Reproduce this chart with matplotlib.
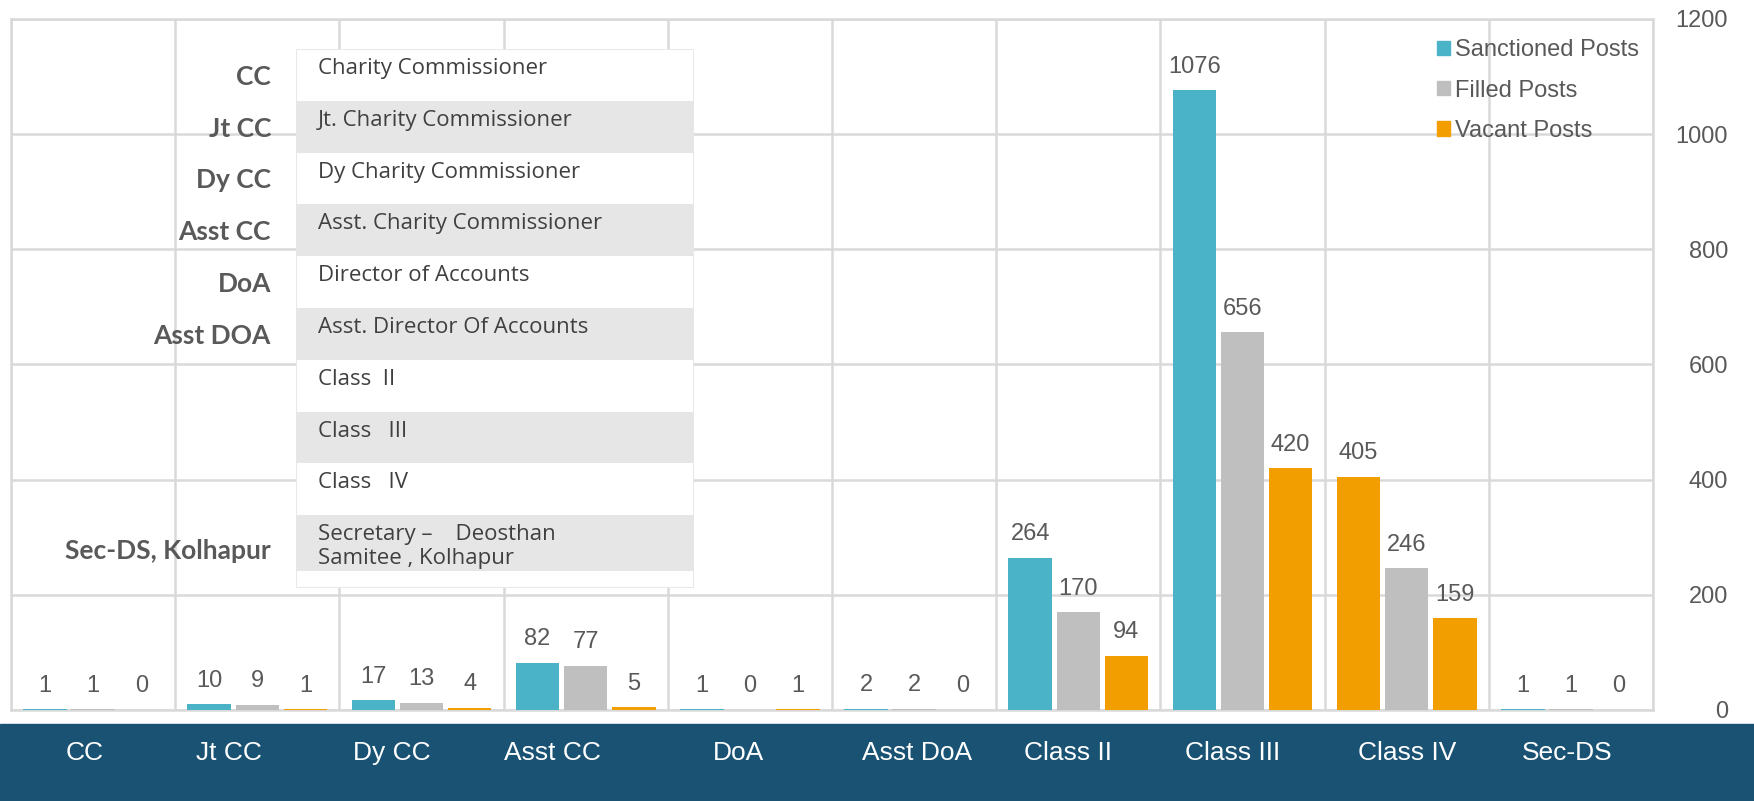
import numpy as np
import matplotlib
matplotlib.use('Agg')
from matplotlib import pyplot as plt
from matplotlib.patches import Rectangle

plt.rcParams['font.family'] = ['Liberation Sans', 'DejaVu Sans']

# данные
categories = ['CC', 'Jt CC', 'Dy CC', 'Asst CC', 'DoA', 'Asst DoA',
              'Class II', 'Class III', 'Class IV', 'Sec-DS']
sanctioned = [1, 10, 17, 82, 1, 2, 264, 1076, 405, 1]
filled = [1, 9, 13, 77, 0, 2, 170, 656, 246, 1]
vacant = [0, 1, 4, 5, 1, 0, 94, 420, 159, 0]
series_names = ['Sanctioned Posts', 'Filled Posts', 'Vacant Posts']

abbr = ['CC', 'Jt CC', 'Dy CC', 'Asst CC', 'DoA', 'Asst DOA', '', '', '', 'Sec-DS, Kolhapur']
full_names = ['Charity Commissioner', 'Jt. Charity Commissioner', 'Dy Charity Commissioner',
              'Asst. Charity Commissioner', 'Director of Accounts', 'Asst. Director Of Accounts',
              'Class  II', 'Class   III', 'Class   IV',
              'Secretary \u2013    Deosthan\nSamitee , Kolhapur']

# стиль
c_teal, c_gray, c_orange = '#4BB3C7', '#BFBFBF', '#F29D00'
txt_gray = '#595959'
grid_c = '#D9D9D9'
band_c = '#195273'
label_shift = [-0.05, -0.17, -0.18, -0.2, -0.07, 0.02, -0.06, -0.06, 0, -0.02]

W, H = 1754, 801
fig = plt.figure(figsize=(W / 100, H / 100), dpi=100)
fig.patch.set_facecolor('white')

# основная область графика
l, r, t, b = 11, 1653, 19, 710
ax = fig.add_axes([l / W, 1 - b / H, (r - l) / W, (b - t) / H])
x = np.arange(len(categories))
bw, step = 0.265, 0.293

cols_s = [c_teal] * len(categories)
cols_s[8] = c_orange  # в оригинале этот столбец оранжевый
for vals, off, col in [(sanctioned, -step, cols_s),
                       (filled, 0, c_gray),
                       (vacant, step, c_orange)]:
    ax.bar(x + off, vals, width=bw, color=col, zorder=3)
    for xi, v in zip(x + off, vals):
        ax.annotate(str(v), (xi, v), xytext=(0, 9), textcoords='offset points',
                    ha='center', va='bottom', fontsize=17, color=txt_gray)

ax.set_xlim(-0.5, len(categories) - 0.5)
ax.set_ylim(0, 1200)
ax.set_yticks(range(0, 1201, 200))
ax.set_xticks([])
ax.set_xticks(np.arange(-0.5, len(categories), 1), minor=True)
ax.grid(axis='y', color=grid_c, lw=1.8, zorder=0)
ax.grid(axis='x', which='minor', color=grid_c, lw=1.8, zorder=0)
ax.tick_params(axis='x', which='both', length=0)
ax.yaxis.tick_right()
ax.tick_params(axis='y', length=0, pad=54, labelsize=17, labelcolor=txt_gray)
for lab in ax.get_yticklabels():
    lab.set_ha('right')
for s in ax.spines.values():
    s.set_color(grid_c)
    s.set_linewidth(1.8)

# легенда
handles = [Rectangle((0, 0), 1, 1, color=c) for c in (c_teal, c_gray, c_orange)]
leg = ax.legend(handles, series_names, loc='upper left', bbox_to_anchor=(0.861, 0.988),
                frameon=False, fontsize=17, handlelength=0.55, handleheight=0.55,
                handletextpad=0.25, labelspacing=0.78, borderpad=0)
for tx in leg.get_texts():
    tx.set_color(txt_gray)

# нижняя полоса с подписями
fig.patches.append(Rectangle((0, 0), 1, 1 - 724 / H, transform=fig.transFigure,
                             color=band_c, zorder=-1))
for i, cat in enumerate(categories):
    ax.text(i + label_shift[i], -(753 - b) / (b - t), cat, transform=ax.get_xaxis_transform(),
            ha='center', va='center', color='white', fontsize=19, clip_on=False, zorder=5)

# вставка-таблица с расшифровкой
tx0, tx1, ty0, ty1 = 296, 694, 49, 588
ax2 = fig.add_axes([tx0 / W, 1 - ty1 / H, (tx1 - tx0) / W, (ty1 - ty0) / H])
ax2.set_xlim(0, tx1 - tx0)
ax2.set_ylim(ty1 - ty0, 0)
ax2.axis('off')
ax2.add_patch(Rectangle((0, 0), tx1 - tx0, ty1 - ty0, facecolor='white',
                        edgecolor='#E8E8E8', lw=1.5))
row_h = 51.8
for i, name in enumerate(full_names):
    y0 = i * row_h
    h = row_h if i < len(full_names) - 1 else 56
    if i % 2 == 1:
        ax2.add_patch(Rectangle((0, y0), tx1 - tx0, h, facecolor='#E6E6E6', edgecolor='none'))
    ax2.text(22, y0 + 9, name, ha='left', va='top', fontsize=16, color='#404040',
             family=['Open Sans', 'DejaVu Sans'], linespacing=1.15)
    if abbr[i]:
        ax2.text(-25, y0 + h / 2 + (8 if i == 9 else 2), abbr[i], ha='right', va='center',
                 fontsize=19, fontweight='bold', color=txt_gray,
                 family=['Lato', 'DejaVu Sans'], clip_on=False)

fig.savefig('out.png', dpi=100)
